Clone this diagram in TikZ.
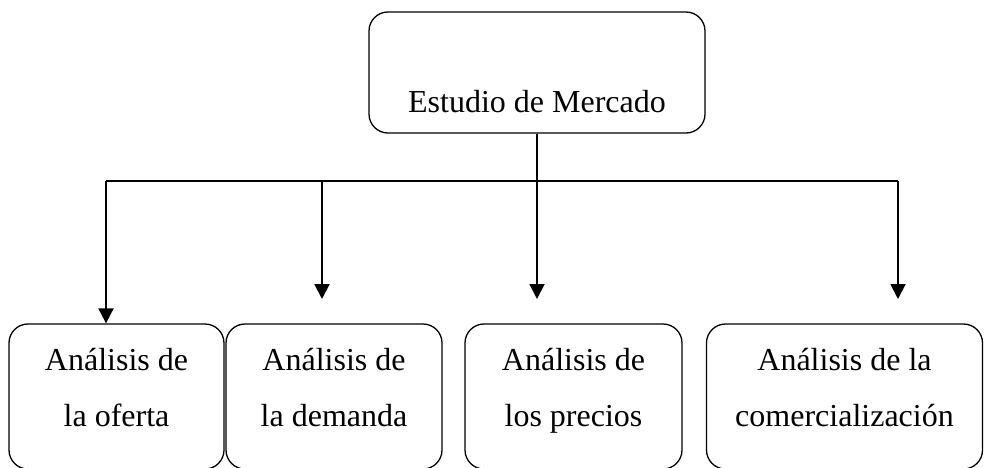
\documentclass[tikz,border=0pt]{standalone}
\usepackage{fontspec}
\setmainfont{Liberation Serif}
\usetikzlibrary{arrows.meta}
\begin{document}
\begin{tikzpicture}[x=1pt,y=-1pt,
  box/.style={draw=black, line width=1.3pt, rounded corners=19pt, inner sep=0pt},
  lbl/.style={font=\fontsize{32}{56.5}\selectfont, align=center, inner sep=0pt},
  conn/.style={line width=1.2pt},
  arr/.style={line width=1.9pt, -{Triangle[width=15pt,length=15pt]}}]
\useasboundingbox (0,0) rectangle (984,467);
% top box
\node[box, minimum width=336pt, minimum height=121pt] (top) at (537,72.5) {};
\node[lbl, anchor=base] (toptxt) at (537,112) {Estudio de Mercado};
% bottom boxes
\node[box, minimum width=215pt, minimum height=145pt] (b1) at (116.5,396.5) {};
\node[box, minimum width=216pt, minimum height=145pt] (b2) at (334,396.5) {};
\node[box, minimum width=217pt, minimum height=145pt] (b3) at (573.5,396.5) {};
\node[box, minimum width=276pt, minimum height=145pt] (b4) at (844.5,396.5) {};
\node[lbl] (t1) at (116.5,387) {\strut Análisis de\\\strut la oferta};
\node[lbl] (t2) at (334,387) {\strut Análisis de\\\strut la demanda};
\node[lbl] (t3) at (573.5,387) {\strut Análisis de\\\strut los precios};
\node[lbl] (t4) at (844.5,387) {\strut Análisis de la\\\strut comercialización};
% connector coordinates
\coordinate (hl) at (106,181);
\coordinate (hr) at (898,181);
\coordinate (h2) at (322,181);
\coordinate (e2) at (322,299);
\coordinate (e3) at (537,299);
\coordinate (e4) at (898,299);
% connectors
\draw[conn] (hl) -- (hr);
\draw[arr] (top.south) -- (e3);
\draw[arr] (hl) -- (hl |- b1.north);
\draw[arr] (h2) -- (e2);
\draw[arr] (hr) -- (e4);
\end{tikzpicture}
\end{document}
